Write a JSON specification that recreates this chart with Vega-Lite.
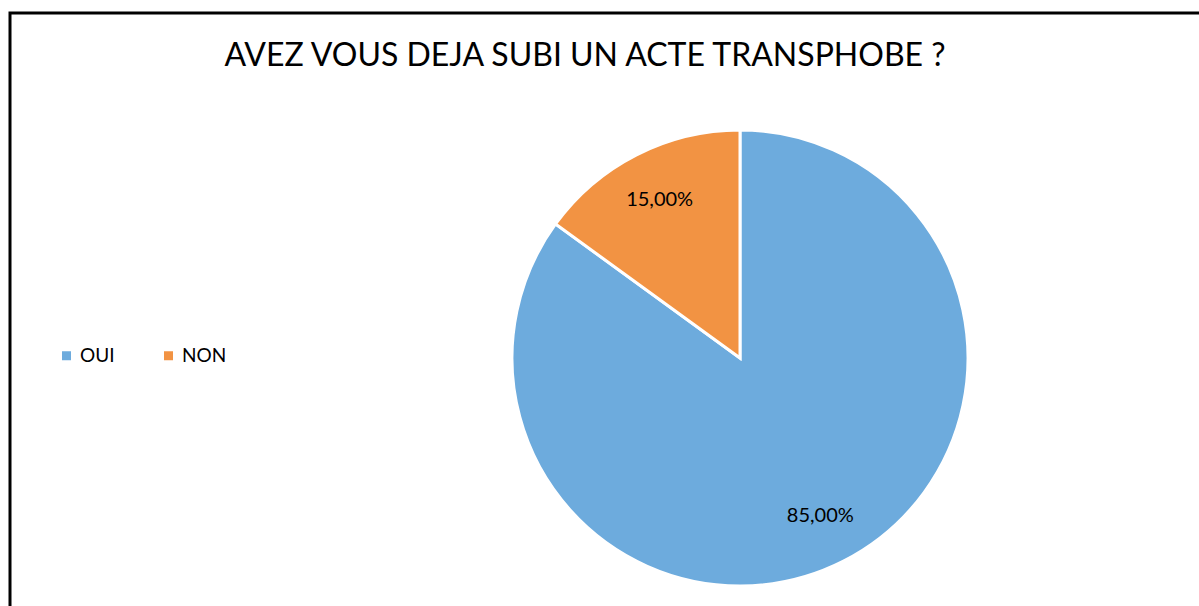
{
  "$schema": "https://vega.github.io/schema/vega-lite/v6.json",
  "width": 1460,
  "height": 690,
  "autosize": "none",
  "padding": {"left": 10, "top": 13, "right": 0, "bottom": 0},
  "background": "white",
  "view": {"stroke": "black", "strokeWidth": 3, "fill": "white"},
  "config": {
    "view": {"stroke": "black", "strokeWidth": 3},
    "font": "Lato",
    "locale": {"number": {"decimal": ",", "thousands": " ", "grouping": [3], "currency": ["", " €"]}}
  },
  "title": {
    "text": "AVEZ VOUS DEJA SUBI UN ACTE TRANSPHOBE ?",
    "font": "Lato",
    "fontSize": 32,
    "fontWeight": "normal",
    "color": "black",
    "anchor": "middle",
    "baseline": "alphabetic",
    "offset": 0,
    "dx": -155,
    "dy": 85
  },
  "data": {
    "values": [
      {"reponse": "OUI", "part": 0.85},
      {"reponse": "NON", "part": 0.15}
    ]
  },
  "encoding": {
    "theta": {"field": "part", "type": "quantitative", "stack": true},
    "order": {"field": "part", "sort": "descending"}
  },
  "layer": [
    {
      "mark": {"type": "arc", "outerRadius": 228, "stroke": "white", "strokeWidth": 3},
      "encoding": {
        "color": {
          "field": "reponse",
          "type": "nominal",
          "scale": {"domain": ["OUI", "NON"], "range": ["#6DABDD", "#F29343"]},
          "legend": {
            "orient": "none",
            "direction": "horizontal",
            "legendX": 47,
            "legendY": 333,
            "title": null,
            "labelFontSize": 19,
            "labelFont": "Lato",
            "labelColor": "black",
            "symbolType": "square",
            "symbolSize": 81,
            "symbolStrokeWidth": 0,
            "columnPadding": 44
          }
        }
      }
    },
    {
      "mark": {"type": "text", "radius": 177, "fontSize": 20, "font": "Lato", "color": "black"},
      "encoding": {
        "text": {"field": "part", "type": "quantitative", "format": ".2%"}
      }
    }
  ]
}
